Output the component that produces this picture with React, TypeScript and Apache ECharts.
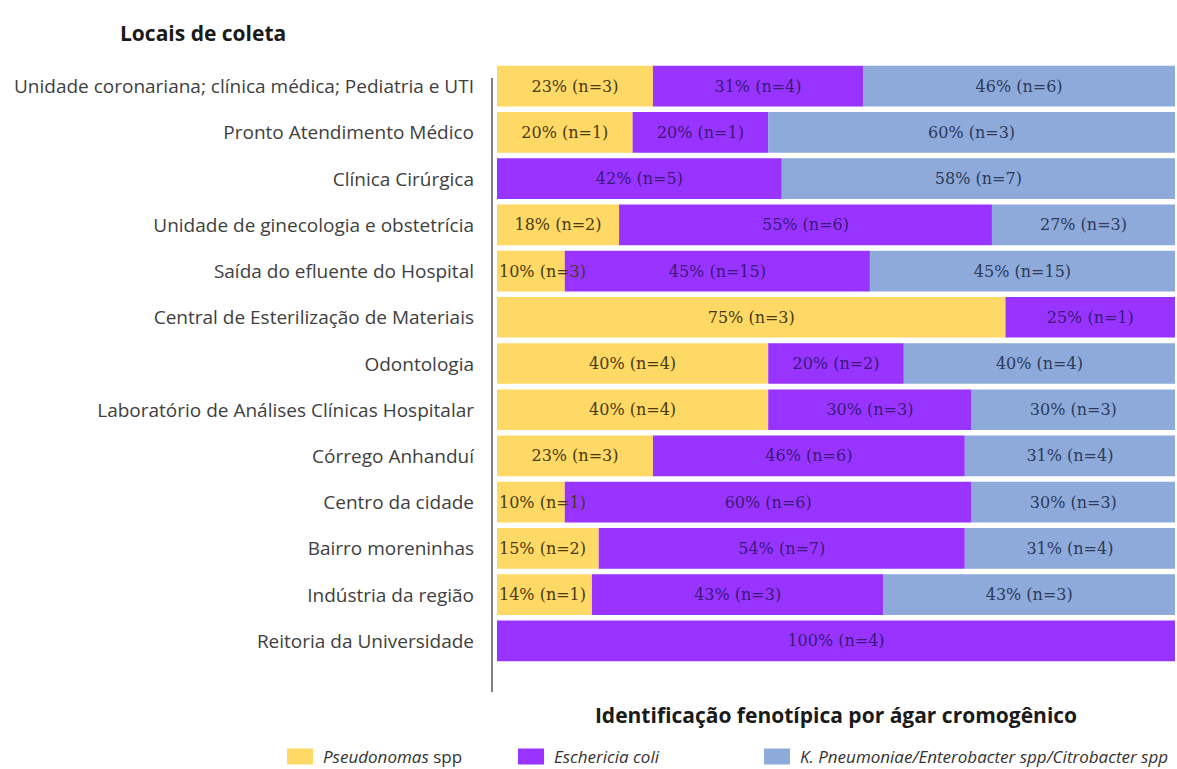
import React, { useEffect, useRef } from "react";
import * as echarts from "echarts";

const categories = [
  "Unidade coronariana; clínica médica; Pediatria e UTI",
  "Pronto Atendimento Médico",
  "Clínica Cirúrgica",
  "Unidade de ginecologia e obstetrícia",
  "Saída do efluente do Hospital",
  "Central de Esterilização de Materiais",
  "Odontologia",
  "Laboratório de Análises Clínicas Hospitalar",
  "Córrego Anhanduí",
  "Centro da cidade",
  "Bairro moreninhas",
  "Indústria da região",
  "Reitoria da Universidade",
];

const seriesNames = [
  "Pseudonomas spp",
  "Eschericia coli",
  "K. Pneumoniae/Enterobacter spp/Citrobacter spp",
];

const pseudomonasPct = [23, 20, 0, 18, 10, 75, 40, 40, 23, 10, 15, 14, 0];
const pseudomonasN = [3, 1, 0, 2, 3, 3, 4, 4, 3, 1, 2, 1, 0];
const ecoliPct = [31, 20, 42, 55, 45, 25, 20, 30, 46, 60, 54, 43, 100];
const ecoliN = [4, 1, 5, 6, 15, 1, 2, 3, 6, 6, 7, 3, 4];
const kpnPct = [46, 60, 58, 27, 45, 0, 40, 30, 31, 30, 31, 43, 0];
const kpnN = [6, 3, 7, 3, 15, 0, 4, 3, 4, 3, 4, 3, 0];

const colors = ["#ffd966", "#9933ff", "#8eaadb"];
const labelColors = ["#4a3a12", "#3a1a7a", "#2c3a58"];

const pctSets = [pseudomonasPct, ecoliPct, kpnPct];
const nSets = [pseudomonasN, ecoliN, kpnN];

export default function App() {
  const ref = useRef<HTMLDivElement>(null);

  useEffect(() => {
    if (!ref.current) return;
    const chart = echarts.init(ref.current, null, { renderer: "svg" });

    const series = seriesNames.map((name, si) => ({
      name,
      type: "bar",
      stack: "total",
      barCategoryGap: "12%",
      itemStyle: { color: colors[si] },
      data: pctSets[si].map((v) => ({
        value: v,
        label: {
          show: v > 0,
          position: v < 16 ? "insideLeft" : "inside",
          distance: 2,
        },
      })),
      label: {
        fontFamily: "DejaVu Serif",
        fontSize: 16,
        color: labelColors[si],
        formatter: (p: any) => `${p.value}% (n=${nSets[si][p.dataIndex]})`,
      },
    }));

    const legendText = {
      fontFamily: "Open Sans",
      fontSize: 17,
      color: "#333333",
      padding: [0, 0, 0, 5],
      rich: {
        i: { fontFamily: "Open Sans", fontSize: 17, fontStyle: "italic", color: "#333333" },
        n: { fontFamily: "Open Sans", fontSize: 17, fontStyle: "normal", color: "#333333" },
      },
    };
    const legendFormatter = (name: string) =>
      name === "Pseudonomas spp" ? "{i|Pseudonomas} {n|spp}" : `{i|${name}}`;
    const legendLefts = [287, 518, 764];

    chart.setOption({
      animation: false,
      backgroundColor: "#ffffff",
      title: {
        text: "Locais de coleta",
        left: 115,
        top: 17,
        textStyle: {
          fontFamily: "Open Sans",
          fontWeight: "bold",
          fontSize: 21,
          color: "#1a1a1a",
        },
      },
      legend: seriesNames.map((name, i) => ({
        data: [name],
        left: legendLefts[i],
        top: 748,
        itemWidth: 26,
        itemHeight: 16,
        padding: 0,
        icon: "rect",
        selectedMode: false,
        formatter: legendFormatter,
        textStyle: legendText,
      })),
      grid: { left: 497, right: 2, top: 63, height: 601, containLabel: false },
      xAxis: {
        type: "value",
        min: 0,
        max: 100,
        axisLabel: { show: false },
        axisLine: { show: false },
        axisTick: { show: false },
        splitLine: { show: false },
        name: "Identificação fenotípica por ágar cromogênico",
        nameLocation: "middle",
        nameGap: 40,
        nameTextStyle: {
          fontFamily: "Open Sans",
          fontWeight: "bold",
          fontSize: 21,
          color: "#1a1a1a",
        },
      },
      yAxis: {
        type: "category",
        data: categories,
        inverse: true,
        axisLine: { show: false },
        axisTick: { show: false },
        axisLabel: {
          margin: 23,
          fontFamily: "Open Sans",
          fontSize: 19,
          color: "#404040",
        },
      },
      graphic: [
        {
          type: "line",
          shape: { x1: 492, y1: 78, x2: 492, y2: 692 },
          style: { stroke: "#808080", lineWidth: 2 },
        },
      ],
      series,
    });

    return () => chart.dispose();
  }, []);

  return (
    <div
      ref={ref}
      style={{ position: "fixed", left: 0, top: 0, width: 1177, height: 769 }}
    />
  );
}
